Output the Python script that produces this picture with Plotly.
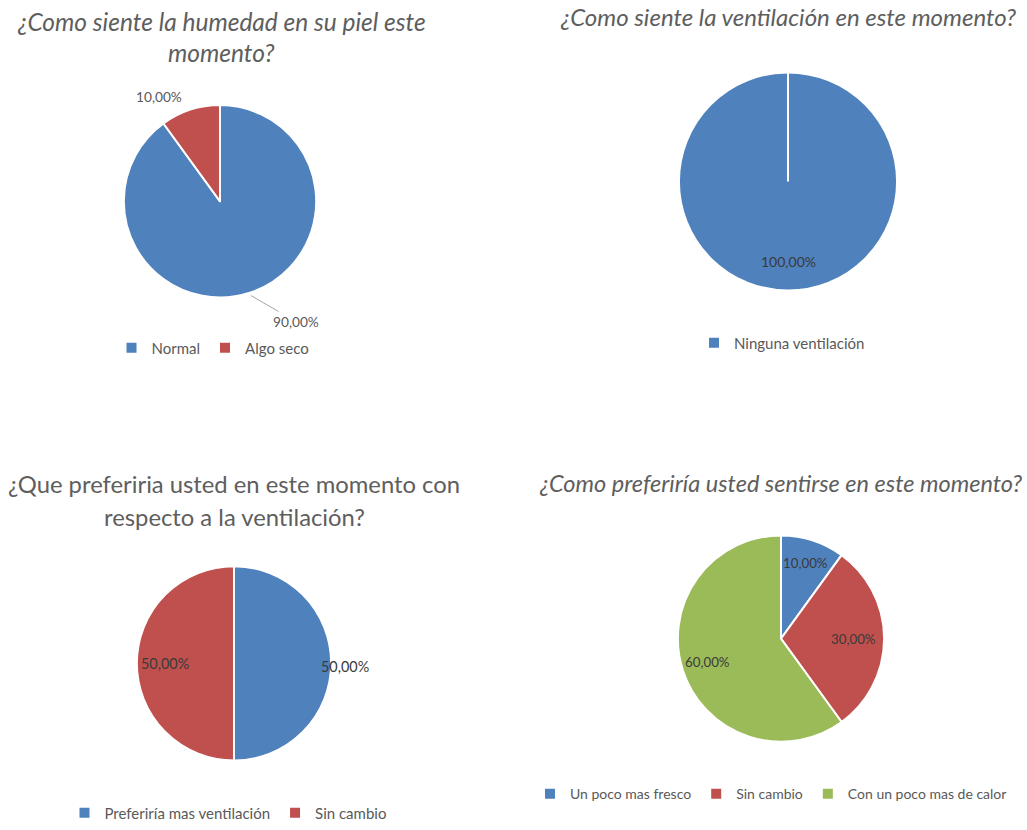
import math
import plotly.graph_objects as go

W, H = 1027, 830

# ---- survey results (percent of respondents) ----
humedad_labels = ["Normal", "Algo seco"]
humedad_values = [90.0, 10.0]

ventilacion_labels = ["Ninguna ventilación"]
ventilacion_values = [100.0]

pref_vent_labels = ["Preferiría mas ventilación", "Sin cambio"]
pref_vent_values = [50.0, 50.0]

pref_sens_labels = ["Un poco mas fresco", "Sin cambio", "Con un poco mas de calor"]
pref_sens_values = [10.0, 30.0, 60.0]

titles = [
    ["¿Como siente la humedad en su piel este", "momento?"],
    ["¿Como siente la ventilación en este momento?"],
    ["¿Que preferiria usted en este momento con", "respecto a la ventilación?"],
    ["¿Como preferiría usted sentirse en este momento?"],
]

BLUE, RED, GREEN = "#4F81BD", "#C0504D", "#9BBB59"
TITLE_COLOR = "#5e5e5e"
TEXT_COLOR = "#595959"
FONT = "Lato"

# ---- layout of each panel (pixels) ----
panels = [
    dict(labels=humedad_labels, values=humedad_values, colors=[BLUE, RED],
         cx=220, cy=203, r=97, title_x=221, title_y=[22, 53], title_size=24.5, italic=True,
         legend_x=213, legend_y=351, legend_size=15,
         lab=[dict(f=1.03, arrow=(45, 26)), dict(f=1.15, dx=-27, dy=0)],
         lab_color=TEXT_COLOR, lab_size=13.7),
    dict(labels=ventilacion_labels, values=ventilacion_values, colors=[BLUE],
         cx=788, cy=183, r=110, title_x=788, title_y=[17], title_size=24, italic=True,
         legend_x=782, legend_y=346, legend_size=15,
         lab=[dict(f=0.73)], lab_color="#3a3a3a", lab_size=14),
    dict(labels=pref_vent_labels, values=pref_vent_values, colors=[BLUE, RED],
         cx=234, cy=669, r=98, title_x=234, title_y=[488, 521], title_size=23.8, italic=False,
         legend_x=228, legend_y=820, legend_size=15,
         lab=[dict(f=1.13, dy=3), dict(f=0.70)], lab_color="#3a3a3a", lab_size=14.4),
    dict(labels=pref_sens_labels, values=pref_sens_values, colors=[BLUE, RED, GREEN],
         cx=781, cy=644, r=104, title_x=780, title_y=[487], title_size=23.5, italic=True,
         legend_x=771, legend_y=801, legend_size=14,
         lab=[dict(f=0.77), dict(f=0.70), dict(f=0.74)], lab_color="#3a3a3a", lab_size=13.3),
]


def px(x):
    return x / W


def py(y):
    return 1 - y / H


def fmt(v):
    return f"{v:.2f}%".replace(".", ",")


fig = go.Figure()
annotations = []
shapes = []

for i, p in enumerate(panels):
    leg = "legend" if i == 0 else f"legend{i + 1}"
    cx, cy, r = p["cx"], p["cy"], p["r"]
    # pie legend entries are shared by label across traces, so keep each panel's keys distinct
    keys = [lbl + "\u200b" * i for lbl in p["labels"]]
    fig.add_trace(go.Pie(
        labels=keys, values=p["values"],
        marker=dict(colors=p["colors"], line=dict(color="white", width=2)),
        sort=False, direction="clockwise", rotation=0,
        textinfo="none", hoverinfo="label+percent",
        domain=dict(x=[px(cx - r), px(cx + r)], y=[py(cy + r), py(cy - r)]),
        legend=leg, showlegend=True,
    ))

    # percentage labels placed along each slice's mid-angle
    total = sum(p["values"])
    cum = 0.0
    for v, spec in zip(p["values"], p["lab"]):
        mid = (cum + v / 2) / total * 2 * math.pi
        cum += v
        f = spec.get("f", 0.7)
        x = cx + f * r * math.sin(mid) + spec.get("dx", 0)
        y = cy - f * r * math.cos(mid) + spec.get("dy", 0)
        ann = dict(x=px(x), y=py(y), xref="paper", yref="paper", text=fmt(v),
                   font=dict(family=FONT, size=p["lab_size"], color=p["lab_color"]))
        if "arrow" in spec:
            ax, ay = spec["arrow"]
            ann.update(showarrow=True, arrowhead=0, arrowwidth=1, arrowcolor="#a6a6a6",
                       ax=ax, ay=ay, standoff=0)
        else:
            ann.update(showarrow=False, xanchor="center", yanchor="middle")
        annotations.append(ann)

    # chart titles
    for line, ty in zip(titles[i], p["title_y"]):
        annotations.append(dict(
            x=px(p["title_x"]), y=py(ty), xref="paper", yref="paper", text=line,
            showarrow=False, xanchor="center", yanchor="middle",
            font=dict(family=FONT, size=p["title_size"], color=TITLE_COLOR,
                      style="italic" if p["italic"] else "normal")))

    fig.update_layout({leg: dict(
        orientation="h", x=px(p["legend_x"]), y=py(p["legend_y"]),
        xanchor="center", yanchor="middle", bgcolor="rgba(0,0,0,0)",
        font=dict(family=FONT, size=p["legend_size"], color=TEXT_COLOR), itemclick=False)})

    # seam line where a single full slice starts
    if len(p["values"]) == 1:
        shapes.append(dict(type="line", xref="paper", yref="paper",
                           x0=px(cx), y0=py(cy), x1=px(cx), y1=py(cy - r),
                           line=dict(color="white", width=2)))

fig.update_layout(
    width=W, height=H, autosize=False,
    margin=dict(l=0, r=0, t=0, b=0),
    paper_bgcolor="white", plot_bgcolor="white",
    annotations=annotations, shapes=shapes,
    font=dict(family=FONT),
)

fig.write_html("out.html")
